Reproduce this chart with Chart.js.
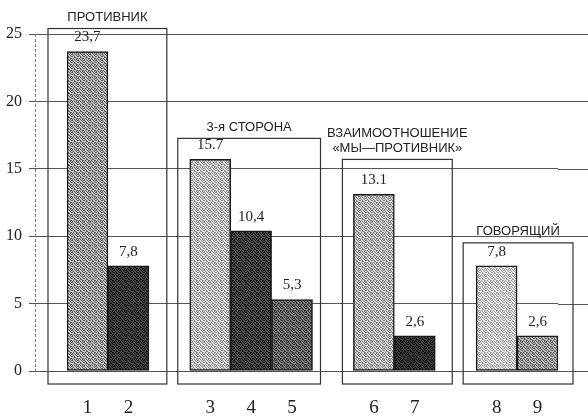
<!DOCTYPE html>
<html>
<head>
<meta charset="utf-8">
<script src="https://cdn.jsdelivr.net/npm/chart.js@4/dist/chart.umd.min.js"></script>
<style>
    body { margin: 0; background: #fff; }
    canvas { display: block; }
</style>
</head>
<body>
<canvas id="chart" width="588" height="416"></canvas>
<script>
// данные
const groupTitles = [['ПРОТИВНИК'], ['3-я СТОРОНА'], ['ВЗАИМООТНОШЕНИЕ', '«МЫ—ПРОТИВНИК»'], ['ГОВОРЯЩИЙ']];
const groupMembers = [['1', '2'], ['3', '4', '5'], ['6', '7'], ['8', '9']];
const categories = ['1', '2', '3', '4', '5', '6', '7', '8', '9'];
const values = [23.7, 7.8, 15.7, 10.4, 5.3, 13.1, 2.6, 7.8, 2.6];
const valueLabels = ['23,7', '7,8', '15.7', '10,4', '5,3', '13.1', '2,6', '7,8', '2,6'];
const yTicks = [0, 5, 10, 15, 20, 25];

// оформление
const tones = [
    ['#c4c4c4', '#5c5c5c'], ['#464646', '#141414'], ['#dedede', '#8e8e8e'],
    ['#4e4e4e', '#171717'], ['#7c7c7c', '#353535'], ['#d6d6d6', '#808080'],
    ['#3c3c3c', '#121212'], ['#e8e8e8', '#a4a4a4'], ['#bcbcbc', '#5e5e5e']
];
const boxPad = [[19, 18], [12, 8], [11, 17], [13, 15]];
const boxTop = [23, 21, 35, 23];
const dots = [
    [1, 0, 0, 1, 0, 1],
    [0, 1, 0, 0, 1, 0],
    [1, 0, 1, 0, 0, 1],
    [0, 0, 1, 1, 0, 0],
    [0, 1, 0, 0, 1, 1],
    [1, 0, 1, 0, 1, 0]
];

function stipple(light, dark) {
    const c = document.createElement('canvas');
    c.width = 6; c.height = 6;
    const g = c.getContext('2d');
    g.fillStyle = light; g.fillRect(0, 0, 6, 6);
    g.fillStyle = dark;
    dots.forEach((row, r) => row.forEach((d, k) => { if (d) g.fillRect(k, r, 1, 1); }));
    return g.createPattern(c, 'repeat');
}

// метки с промежутками между группами
const labels = [];
const data = [];
const fills = [];
const labelText = [];
const groupIdx = [];
groupMembers.forEach((members, g) => {
    if (g > 0) { labels.push(''); data.push(null); fills.push('#fff'); labelText.push(''); }
    const idx = [];
    members.forEach(m => {
        const i = categories.indexOf(m);
        idx.push(labels.length);
        labels.push(m);
        data.push(values[i]);
        fills.push(stipple(tones[i][0], tones[i][1]));
        labelText.push(valueLabels[i]);
    });
    groupIdx.push(idx);
});

const serif = '"Liberation Serif", "DejaVu Serif", serif';
const sans = '"Liberation Sans", "DejaVu Sans", sans-serif';

const decor = {
    id: 'decor',
    beforeDatasetsDraw(chart) {
        const ctx = chart.ctx;
        const a = chart.chartArea;
        const y = chart.scales.y;
        ctx.save();
        ctx.strokeStyle = '#555';
        ctx.lineWidth = 1;
        y.ticks.forEach(t => {
            const py = Math.round(y.getPixelForValue(t.value)) + 0.5;
            ctx.beginPath();
            ctx.moveTo(a.right, py);
            ctx.lineTo(chart.width, py);
            ctx.stroke();
        });
        ctx.setLineDash([3, 2]);
        ctx.strokeStyle = '#777';
        ctx.beginPath();
        ctx.moveTo(a.left - 31.5, a.top);
        ctx.lineTo(a.left - 31.5, a.bottom + 2);
        ctx.stroke();
        ctx.restore();
    },
    afterDatasetsDraw(chart) {
        const ctx = chart.ctx;
        const meta = chart.getDatasetMeta(0);
        const zero = chart.scales.y.getPixelForValue(0);
        ctx.save();
        // подписи значений
        ctx.fillStyle = '#222';
        ctx.font = '15px ' + serif;
        ctx.textAlign = 'center';
        ctx.textBaseline = 'middle';
        meta.data.forEach((el, i) => {
            if (data[i] == null) return;
            ctx.fillText(labelText[i], el.x, el.y - 14);
        });
        // рамки групп
        ctx.strokeStyle = '#333';
        ctx.lineWidth = 1.2;
        ctx.font = '13px ' + sans;
        groupIdx.forEach((idx, g) => {
            const first = meta.data[idx[0]];
            const last = meta.data[idx[idx.length - 1]];
            const left = first.x - first.width / 2 - boxPad[g][0];
            const right = last.x + last.width / 2 + boxPad[g][1];
            const top = Math.min(...idx.map(i => meta.data[i].y)) - boxTop[g];
            const bottom = zero + 13;
            ctx.strokeRect(left, top, right - left, bottom - top);
            const lines = groupTitles[g];
            lines.forEach((line, k) => {
                ctx.fillText(line, (left + right) / 2, top - 11 - (lines.length - 1 - k) * 15);
            });
        });
        ctx.restore();
    }
};

new Chart(document.getElementById('chart'), {
    type: 'bar',
    data: {
        labels: labels,
        datasets: [{
            data: data,
            backgroundColor: fills,
            borderColor: '#1a1a1a',
            borderWidth: 1.5,
            borderSkipped: false,
            barPercentage: 1,
            categoryPercentage: 1
        }]
    },
    options: {
        responsive: false,
        animation: false,
        layout: { padding: { top: 34, right: 30, left: 0, bottom: 0 } },
        plugins: { legend: { display: false }, tooltip: { enabled: false } },
        scales: {
            x: {
                grid: { display: false },
                border: { display: false },
                ticks: {
                    color: '#222',
                    font: { family: serif, size: 19 },
                    padding: 18,
                    maxRotation: 0,
                    autoSkip: false
                },
                afterFit(scale) { scale.height = 45; }
            },
            y: {
                min: 0,
                max: 25,
                afterBuildTicks(scale) { scale.ticks = yTicks.map(v => ({ value: v })); },
                grid: { color: '#555', lineWidth: 1, tickLength: 38 },
                border: { display: false },
                ticks: {
                    color: '#222',
                    font: { family: serif, size: 16 },
                    padding: 7
                },
                afterFit(scale) { scale.width = 67; }
            }
        }
    },
    plugins: [decor]
});
</script>
</body>
</html>
